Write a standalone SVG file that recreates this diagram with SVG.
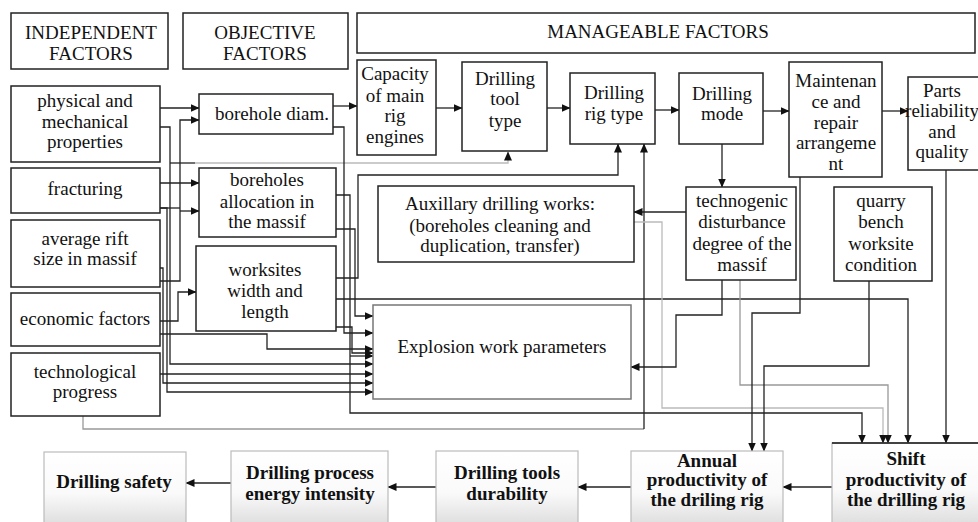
<svg xmlns="http://www.w3.org/2000/svg" width="978" height="522" viewBox="0 0 978 522" font-family="'Liberation Serif', Tinos, 'Times New Roman', 'DejaVu Serif', 'Noto Serif', serif">
<style>
text{font-family:'Liberation Serif',Tinos,'Times New Roman','DejaVu Serif','Noto Serif',serif;font-size:19px;fill:#111;text-anchor:middle}
.b{font-weight:bold}
.box{fill:#fff;stroke:#222;stroke-width:1.5}
.ewp{fill:#fff;stroke:#777;stroke-width:1.5}
.gb{fill:url(#gr);stroke:#bbb;stroke-width:1.2}
.ln{fill:none;stroke:#222;stroke-width:1.3}
.lg{fill:none;stroke:#999;stroke-width:1.3}
.ll{fill:none;stroke:#bbb;stroke-width:1.3}
.ar{marker-end:url(#ah)}
</style>
<defs>
<marker id="ah" markerWidth="9" markerHeight="8" refX="8.5" refY="4" orient="auto" markerUnits="userSpaceOnUse"><path d="M0,0 L9,4 L0,8 Z" fill="#111"/></marker>
<linearGradient id="gr" x1="0" y1="0" x2="0" y2="1"><stop offset="0" stop-color="#fff"/><stop offset="0.55" stop-color="#fafafa"/><stop offset="1" stop-color="#dcdcdc"/></linearGradient>
</defs>
<rect width="978" height="522" fill="#fff"/>

<g id="connectors">
<polyline class="ln ar" points="160,108 199,108"/>
<polyline class="ln ar" points="160,127 170,127 170,364 373,364"/>
<polyline class="ln" points="170,163 195,163"/>
<polyline class="ll ar" points="195,163 508,163 508,152"/>
<polyline class="ln ar" points="160,183 199,183"/>
<polyline class="ln" points="160,208 180,208"/>
<polyline class="ln ar" points="160,208 167,208 167,392 373,392"/>
<polyline class="ln ar" points="160,281 180,281 180,120 199,120"/>
<polyline class="ln ar" points="180,211 199,211"/>
<polyline class="ln ar" points="160,268 163,268 163,383 373,383"/>
<polyline class="ln ar" points="160,321 178,321 178,292 196,292"/>
<polyline class="ln ar" points="160,334 267,334 267,349 373,349"/>
<polyline class="ln ar" points="160,374 373,374"/>
<polyline class="lg" points="83,416 83,429 644,429"/>
<polyline class="ln ar" points="644,429 644,144"/>
<polyline class="ln ar" points="333,106 357,106"/>
<polyline class="ln ar" points="333,127 344,127 344,333 373,333"/>
<polyline class="ln ar" points="336,195 350,195 350,413 862,413 862,443"/>
<polyline class="ln ar" points="350,356 373,356"/>
<polyline class="ln ar" points="336,229 355,229 355,316 373,316"/>
<polyline class="ln ar" points="336,278 358,278 358,175 618,175 618,144"/>
<polyline class="ln ar" points="336,299 908,299 908,443"/>
<polyline class="ln ar" points="336,327 352,327 352,353 373,353"/>
<polyline class="ln ar" points="436,108 462,108"/>
<polyline class="ln ar" points="547,108 570,108"/>
<polyline class="ln ar" points="655,110 679,110"/>
<polyline class="ln ar" points="763,111 789,111"/>
<polyline class="ln ar" points="882,111 908,111"/>
<polyline class="ln ar" points="722,144 722,187"/>
<polyline class="ln ar" points="686,212 634,212"/>
<polyline class="ll ar" points="634,222 662,222 662,408 883,408 883,443"/>
<polyline class="ln ar" points="722,280 722,315 676,315 676,367 631,367"/>
<polyline class="lg ar" points="740,280 740,385 888,385 888,443"/>
<polyline class="ln ar" points="800,177 800,313 752,313 752,451"/>
<polyline class="ln ar" points="869,281 869,366 764,366 764,451"/>
<polyline class="ln ar" points="946,170 946,443"/>
<polyline class="ln ar" points="832,487 783,487"/>
<polyline class="ln ar" points="631,487 578,487"/>
<polyline class="ln ar" points="436,487 388,487"/>
<polyline class="ln ar" points="231,483 186,483"/>
</g>

<g id="h-independent"><rect class="box" x="11" y="13" width="157" height="56"/><text x="91" y="39">INDEPENDENT</text><text x="91" y="60">FACTORS</text></g>
<g id="h-objective"><rect class="box" x="183" y="13" width="165" height="56"/><text x="265" y="39">OBJECTIVE</text><text x="265" y="60">FACTORS</text></g>
<g id="h-manageable"><rect class="box" x="357" y="13" width="618" height="40"/><text x="658" y="38">MANAGEABLE FACTORS</text></g>

<g id="physical"><rect class="box" x="11" y="86" width="149" height="76"/><text x="85" y="107">physical and</text><text x="85" y="128">mechanical</text><text x="85" y="148">properties</text></g>
<g id="fracturing"><rect class="box" x="11" y="168" width="149" height="45"/><text x="85" y="195">fracturing</text></g>
<g id="rift"><rect class="box" x="11" y="220" width="149" height="67"/><text x="85" y="245">average rift</text><text x="85" y="265">size in massif</text></g>
<g id="economic"><rect class="box" x="11" y="293" width="149" height="53"/><text x="85" y="325">economic factors</text></g>
<g id="techprog"><rect class="box" x="11" y="353" width="149" height="63"/><text x="85" y="378">technological</text><text x="85" y="398">progress</text></g>

<g id="diam"><rect class="box" x="199" y="94" width="134" height="40"/><text x="272" y="120">borehole diam.</text></g>
<g id="alloc"><rect class="box" x="199" y="168" width="137" height="69"/><text x="267" y="186">boreholes</text><text x="267" y="208">allocation in</text><text x="267" y="228">the massif</text></g>
<g id="worksites"><rect class="box" x="196" y="246" width="140" height="85"/><text x="265" y="276">worksites</text><text x="265" y="297">width and</text><text x="265" y="318">length</text></g>

<g id="capacity"><rect class="box" x="357" y="60" width="79" height="95"/><text x="395" y="80">Capacity</text><text x="395" y="102">of main</text><text x="395" y="122">rig</text><text x="395" y="143">engines</text></g>
<g id="tooltype"><rect class="box" x="462" y="62" width="85" height="89"/><text x="505" y="85">Drilling</text><text x="505" y="105">tool</text><text x="505" y="127">type</text></g>
<g id="rigtype"><rect class="box" x="570" y="73" width="85" height="71"/><text x="614" y="99">Drilling</text><text x="614" y="120">rig type</text></g>
<g id="mode"><rect class="box" x="679" y="73" width="84" height="71"/><text x="722" y="100">Drilling</text><text x="722" y="120">mode</text></g>
<g id="maintenance"><rect class="box" x="789" y="62" width="93" height="115"/><text x="836" y="87">Maintenan</text><text x="836" y="108">ce and</text><text x="836" y="129">repair</text><text x="836" y="149">arrangeme</text><text x="836" y="170">nt</text></g>
<g id="parts"><rect class="box" x="908" y="77" width="80" height="93"/><text x="942" y="97">Parts</text><text x="942" y="117">reliability</text><text x="942" y="138">and</text><text x="942" y="158">quality</text></g>

<g id="aux"><rect class="box" x="378" y="186" width="256" height="76"/><text x="500" y="210">Auxillary drilling works:</text><text x="500" y="232">(boreholes cleaning and</text><text x="500" y="252">duplication, transfer)</text></g>
<g id="technogenic"><rect class="box" x="686" y="187" width="110" height="93"/><text x="742" y="207">technogenic</text><text x="742" y="228">disturbance</text><text x="742" y="250">degree of the</text><text x="742" y="271">massif</text></g>
<g id="quarry"><rect class="box" x="834" y="187" width="98" height="94"/><text x="881" y="207">quarry</text><text x="881" y="228">bench</text><text x="881" y="250">worksite</text><text x="881" y="271">condition</text></g>
<g id="explosion"><rect class="ewp" x="373" y="305" width="258" height="94"/><text x="502" y="353">Explosion work parameters</text></g>

<g id="safety"><rect class="gb" x="44" y="452" width="142" height="75"/><text class="b" x="114" y="488">Drilling safety</text></g>
<g id="energy"><rect class="gb" x="231" y="451" width="157" height="76"/><text class="b" x="310" y="479">Drilling process</text><text class="b" x="310" y="500">energy intensity</text></g>
<g id="durability"><rect class="gb" x="436" y="451" width="142" height="76"/><text class="b" x="507" y="479">Drilling tools</text><text class="b" x="507" y="500">durability</text></g>
<g id="annual"><rect class="gb" x="631" y="451" width="152" height="76"/><text class="b" x="707" y="467">Annual</text><text class="b" x="707" y="486">productivity of</text><text class="b" x="707" y="506">the driling rig</text></g>
<g id="shift"><rect class="gb" x="832" y="443" width="160" height="84"/><line x1="832" y1="443" x2="978" y2="443" stroke="#111" stroke-width="1.3"/><text class="b" x="906" y="465">Shift</text><text class="b" x="906" y="486">productivity of</text><text class="b" x="906" y="506">the drilling rig</text></g>
</svg>
